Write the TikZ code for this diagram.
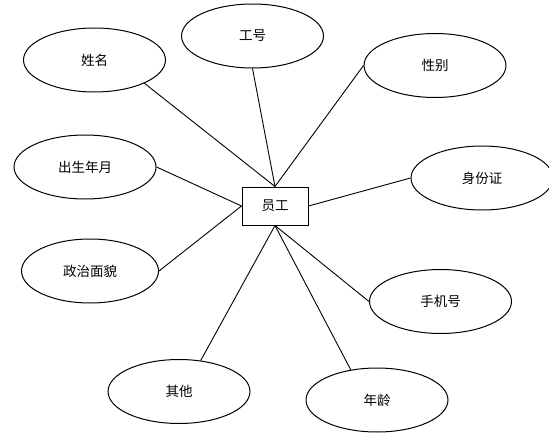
\documentclass[tikz,border=0pt]{standalone}
\usepackage{fontspec}
\newfontfamily\cjk{Noto Sans CJK SC}
\usetikzlibrary{shapes.geometric}

\begin{document}
\begin{tikzpicture}[x=1pt, y=-1pt,
        attr/.style={draw, ellipse, line width=1pt, minimum width=142pt, minimum height=64pt,
            inner sep=0pt, font=\cjk\fontsize{13.5}{16}\selectfont},
        entity/.style={draw, rectangle, line width=1pt, minimum width=66pt, minimum height=38pt,
            inner sep=0pt, font=\cjk\fontsize{13.5}{16}\selectfont},
        link/.style={line width=0.9pt}]
            \useasboundingbox (0, 0) rectangle (549, 441);

            \node[entity] (yg) at (275, 206) {员工};

            \node[attr] (xm) at (94.5, 60) {姓名};
            \node[attr] (gh) at (252.5, 36) {工号};
            \node[attr] (xb) at (435, 65.5) {性别};
            \node[attr] (csny) at (85, 167) {出生年月};
            \node[attr] (sfz) at (482, 178) {身份证};
            \node[attr, minimum width=137pt] (zzmm) at (90, 271) {政治面貌};
            \node[attr] (sjh) at (440.5, 301.5) {手机号};
            \node[attr] (qt) at (179, 391.5) {其他};
            \node[attr] (nl) at (377, 400) {年龄};

            \draw[link] (yg.north) -- (xm.-25);
            \draw[link] (yg.north) -- (gh.south);
            \draw[link] (yg.north) -- (xb.west);
            \draw[link] (yg.west) -- (csny.east);
            \draw[link] (yg.west) -- (zzmm.east);
            \draw[link] (yg.east) -- (sfz.west);
            \draw[link] (yg.south) -- (sjh.west);
            \draw[link] (yg.south) -- (nl.131);
            \draw[link] (yg.south) -- (qt.55);
        \end{tikzpicture}
\end{document}
